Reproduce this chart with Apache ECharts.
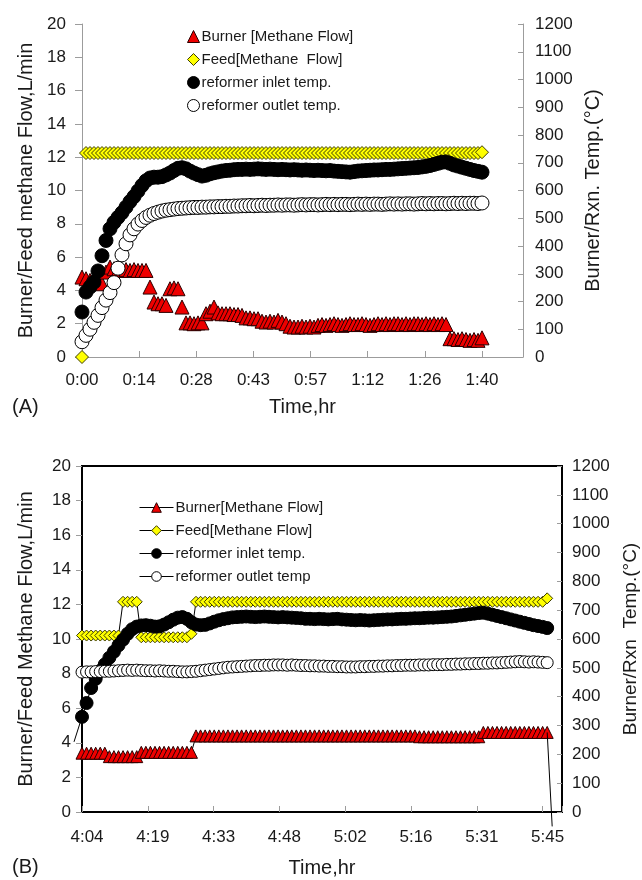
<!DOCTYPE html>
<html>
<head>
<meta charset="utf-8">
<script src="https://cdn.jsdelivr.net/npm/echarts@6.0.0/dist/echarts.min.js"></script>
<style>
  html, body { margin: 0; padding: 0; background: #fff; }
  #chart { width: 642px; height: 880px; }
</style>
</head>
<body>
<div id="chart"></div>
<script>
// (A) start-up run, minutes from 0:00
var timesA = [0,1,2,3,4,5,6,7,8,9,
  10,11,12,13,14,15,16,17,18,19,
  20,21,22,23,24,25,26,27,28,29,
  30,31,32,33,34,35,36,37,38,39,
  40,41,42,43,44,45,46,47,48,49,
  50,51,52,53,54,55,56,57,58,59,
  60,61,62,63,64,65,66,67,68,69,
  70,71,72,73,74,75,76,77,78,79,
  80,81,82,83,84,85,86,87,88,89,
  90,91,92,93,94,95,96,97,98,99,
  100];
var burnerA = [4.8,4.7,4.6,4.5,4.5,4.4,5.1,5.4,5.3,5.2,
  5.2,5.25,5.2,5.25,5.2,5.2,5.2,4.2,3.3,3.2,
  3.2,3.1,4.1,4.15,4.1,3.0,2.05,2.05,2.0,2.05,
  2.05,2.6,2.75,3.0,2.65,2.6,2.6,2.6,2.55,2.55,
  2.5,2.35,2.35,2.3,2.3,2.15,2.1,2.15,2.1,2.2,
  2.1,2.0,1.85,1.8,1.8,1.85,1.8,1.85,1.8,1.9,
  1.95,1.9,1.95,2.0,1.95,1.9,1.95,2.0,1.95,1.95,
  2.0,1.95,1.9,1.95,2.0,1.95,2.0,1.95,2.0,2.0,
  1.95,2.0,1.95,2.0,2.0,1.95,2.0,1.95,2.0,1.95,
  2.0,1.95,1.1,1.1,1.05,1.1,1.05,1.0,1.05,1.0,
  1.15];
var feedA = [0,12.25,12.25,12.25,12.25,12.25,12.25,12.25,12.25,12.25,
  12.25,12.25,12.25,12.25,12.25,12.25,12.25,12.25,12.25,12.25,
  12.25,12.25,12.25,12.25,12.25,12.25,12.25,12.25,12.25,12.25,
  12.25,12.25,12.25,12.25,12.25,12.25,12.25,12.25,12.25,12.25,
  12.25,12.25,12.25,12.25,12.25,12.25,12.25,12.25,12.25,12.25,
  12.25,12.25,12.25,12.25,12.25,12.25,12.25,12.25,12.25,12.25,
  12.25,12.25,12.25,12.25,12.25,12.25,12.25,12.25,12.25,12.25,
  12.25,12.25,12.25,12.25,12.25,12.25,12.25,12.25,12.25,12.25,
  12.25,12.25,12.25,12.25,12.25,12.25,12.25,12.25,12.25,12.25,
  12.25,12.25,12.25,12.25,12.25,12.25,12.25,12.25,12.25,12.25,
  12.3];
var inletA = [162,234,252,270,310,365,420,462,485,503,
  520,540,560,578,598,618,635,645,648,648,
  650,656,663,672,680,682,678,670,663,657,
  652,655,660,664,667,670,672,673,675,676,
  676,677,676,677,678,677,676,677,676,675,
  676,675,674,675,674,673,674,673,672,673,
  672,671,672,670,669,668,667,666,668,670,
  671,672,673,674,674,675,676,676,677,678,
  679,680,681,682,683,685,687,690,694,698,
  702,703,698,692,688,684,680,676,672,669,
  666];
var outletA = [55,78,100,125,150,178,205,232,268,320,
  368,408,440,462,479,492,503,511,517,522,
  526,529,531,533,535,536,537,538,539,539,
  540,540,541,541,542,542,543,543,544,544,
  545,545,546,545,546,547,546,547,547,548,
  547,548,548,547,548,549,548,549,549,548,
  549,550,549,550,549,550,550,549,550,551,
  550,551,550,551,551,550,551,552,551,552,
  551,552,552,551,552,553,552,553,552,553,
  553,552,553,554,553,554,553,554,554,553,
  555];
var ticksA = ['0:00','0:14','0:28','0:43','0:57','1:12','1:26','1:40'];
var namesA = ['Burner [Methane Flow]', 'Feed[Methane  Flow]', 'reformer inlet temp.', 'reformer outlet temp.'];

// (B) steady run, minutes from 4:04
var timesB = [0,1,2,3,4,5,6,7,8,9,
  10,11,12,13,14,15,16,17,18,19,
  20,21,22,23,24,25,26,27,28,29,
  30,31,32,33,34,35,36,37,38,39,
  40,41,42,43,44,45,46,47,48,49,
  50,51,52,53,54,55,56,57,58,59,
  60,61,62,63,64,65,66,67,68,69,
  70,71,72,73,74,75,76,77,78,79,
  80,81,82,83,84,85,86,87,88,89,
  90,91,92,93,94,95,96,97,98,99,
  100,101,102];
var burnerB = [3.4,3.4,3.4,3.4,3.4,3.4,3.2,3.2,3.2,3.2,
  3.2,3.2,3.2,3.45,3.45,3.45,3.45,3.45,3.45,3.45,
  3.45,3.45,3.45,3.45,3.45,4.4,4.4,4.4,4.4,4.4,
  4.4,4.4,4.4,4.4,4.4,4.4,4.4,4.4,4.4,4.4,
  4.4,4.4,4.4,4.4,4.4,4.4,4.4,4.4,4.4,4.4,
  4.4,4.4,4.4,4.4,4.4,4.4,4.4,4.4,4.4,4.4,
  4.4,4.4,4.4,4.4,4.4,4.4,4.4,4.4,4.4,4.4,
  4.4,4.4,4.4,4.4,4.35,4.35,4.35,4.35,4.35,4.35,
  4.35,4.35,4.35,4.35,4.35,4.35,4.35,4.35,4.6,4.6,
  4.6,4.6,4.6,4.6,4.6,4.6,4.6,4.6,4.6,4.6,
  4.6,4.6,4.6];
var feedB = [10.2,10.2,10.2,10.2,10.2,10.2,10.2,10.2,10.2,12.15,
  12.15,12.15,12.15,10.1,10.1,10.1,10.1,10.1,10.1,10.1,
  10.1,10.1,10.1,10.1,10.3,12.15,12.15,12.15,12.15,12.15,
  12.15,12.15,12.15,12.15,12.15,12.15,12.15,12.15,12.15,12.15,
  12.15,12.15,12.15,12.15,12.15,12.15,12.15,12.15,12.15,12.15,
  12.15,12.15,12.15,12.15,12.15,12.15,12.15,12.15,12.15,12.15,
  12.15,12.15,12.15,12.15,12.15,12.15,12.15,12.15,12.15,12.15,
  12.15,12.15,12.15,12.15,12.15,12.15,12.15,12.15,12.15,12.15,
  12.15,12.15,12.15,12.15,12.15,12.15,12.15,12.15,12.15,12.15,
  12.15,12.15,12.15,12.15,12.15,12.15,12.15,12.15,12.15,12.15,
  12.15,12.15,12.35];
var inletB = [330,378,430,462,490,512,535,556,578,598,
  618,634,643,647,648,646,643,644,650,658,
  667,674,676,670,658,650,648,649,654,660,
  665,669,672,675,676,677,678,677,676,677,
  678,677,676,675,676,675,674,673,672,670,
  670,669,670,669,668,669,670,668,667,666,
  665,666,665,664,665,666,667,668,668,669,
  670,670,671,672,672,673,674,674,675,676,
  677,678,680,682,684,686,688,690,691,688,
  684,680,676,672,668,664,660,656,652,648,
  645,642,638];
var outletB = [485,486,486,487,487,488,488,489,490,491,
  492,491,492,491,490,490,489,490,489,488,
  488,487,486,486,487,488,490,492,494,496,
  498,500,502,503,504,505,506,507,508,508,
  509,509,510,510,510,509,510,509,508,508,
  507,507,506,506,505,505,504,504,503,503,
  503,504,504,505,505,506,506,507,507,508,
  508,509,509,509,510,510,510,511,511,511,
  512,512,513,513,514,514,515,515,516,516,
  517,517,518,519,520,521,522,521,520,521,
  520,519,518];
var ticksB = ['4:04','4:19','4:33','4:48','5:02','5:16','5:31','5:45'];
var namesB = ['Burner[Methane Flow]', 'Feed[Methane Flow]', 'reformer inlet temp. ', 'reformer outlet temp'];

var FONT = '"Liberation Sans", Arial, Helvetica, sans-serif';
var textCol = '#1a1a1a';
var grey = '#9c9c9c';
var stepA = 100 / 7;
var stepB = 101 / 7;

function pairs(xs, ys) {
  return xs.map(function (x, i) { return [x, ys[i]]; });
}

// only the real tick positions get a label
function tickFmt(labels, step) {
  return function (v) {
    var i = Math.round(v / step);
    if (Math.abs(v - i * step) > step * 0.05 || i >= labels.length) return '';
    return labels[i];
  };
}
function plain(v) { return String(v); }

var labelFont = { fontSize: 17, color: textCol, fontFamily: FONT };
var nameFont = { fontSize: 20, color: textCol, fontFamily: FONT };

var redStyle = { color: '#ee0000', borderColor: '#2a0000', borderWidth: 1, opacity: 1 };
var yellowStyle = { color: '#ffff00', borderColor: '#3d3d00', borderWidth: 1, opacity: 1 };
var blackStyle = { color: '#000', borderColor: '#000', borderWidth: 1, opacity: 1 };
var whiteStyle = { color: '#fff', borderColor: '#000', borderWidth: 1, opacity: 1 };

var chart = echarts.init(document.getElementById('chart'));

var option = {
  animation: false,
  backgroundColor: '#fff',
  grid: [
    { left: 82, top: 24, width: 441, height: 333, outerBoundsMode: 'none' },
    { left: 82, top: 466, width: 480, height: 346, outerBoundsMode: 'none',
      show: true, borderColor: '#000', borderWidth: 2, backgroundColor: 'transparent' }
  ],
  xAxis: [
    {
      gridIndex: 0, type: 'value', min: 0, max: 110.25, interval: stepA,
      axisLine: { show: true, onZero: false, lineStyle: { color: grey, width: 1 } },
      axisTick: { show: true, inside: true, length: 6, lineStyle: { color: grey } },
      axisLabel: Object.assign({ formatter: tickFmt(ticksA, stepA), margin: 15 }, labelFont),
      splitLine: { show: false },
      name: 'Time,hr', nameLocation: 'middle', nameGap: 40, nameTextStyle: nameFont
    },
    {
      gridIndex: 1, type: 'value', min: 0, max: 105.25, interval: stepB,
      axisLine: { show: true, onZero: false, lineStyle: { color: '#000', width: 2 } },
      axisTick: { show: true, inside: true, length: 6, lineStyle: { color: grey } },
      axisLabel: Object.assign({ formatter: tickFmt(ticksB, stepB), margin: 17, padding: [0, 0, 0, 10] }, labelFont),
      splitLine: { show: false },
      name: 'Time,hr', nameLocation: 'middle', nameGap: 46, nameTextStyle: nameFont
    }
  ],
  yAxis: [
    {
      gridIndex: 0, type: 'value', position: 'left', min: 0, max: 20, interval: 2,
      axisLine: { show: true, lineStyle: { color: grey, width: 1 } },
      axisTick: { show: true, inside: false, length: 7, lineStyle: { color: grey } },
      axisLabel: Object.assign({ margin: 16, formatter: plain }, labelFont),
      splitLine: { show: false },
      name: 'Burner/Feed methane Flow,L/min', nameLocation: 'middle', nameRotate: 90,
      nameGap: 46, nameTextStyle: nameFont
    },
    {
      gridIndex: 0, type: 'value', position: 'right', min: 0, max: 1200, interval: 100,
      axisLine: { show: true, lineStyle: { color: grey, width: 1 } },
      axisTick: { show: true, inside: true, length: 5, lineStyle: { color: grey } },
      axisLabel: Object.assign({ margin: 12, formatter: plain }, labelFont),
      splitLine: { show: false },
      name: 'Burner/Rxn. Temp.(°C)', nameLocation: 'middle', nameRotate: 90,
      nameGap: 46, nameTextStyle: nameFont
    },
    {
      gridIndex: 1, type: 'value', position: 'left', min: 0, max: 20, interval: 2,
      axisLine: { show: true, lineStyle: { color: '#000', width: 2 } },
      axisTick: { show: true, inside: false, length: 6, lineStyle: { color: grey } },
      axisLabel: Object.assign({ margin: 11, formatter: plain }, labelFont),
      splitLine: { show: false },
      name: 'Burner/Feed Methane Flow,L/min', nameLocation: 'middle', nameRotate: 90,
      nameGap: 46, nameTextStyle: nameFont
    },
    {
      gridIndex: 1, type: 'value', position: 'right', min: 0, max: 1200, interval: 100,
      axisLine: { show: true, lineStyle: { color: '#000', width: 2 } },
      axisTick: { show: true, inside: true, length: 5, lineStyle: { color: grey } },
      axisLabel: Object.assign({ margin: 10, formatter: plain }, labelFont),
      splitLine: { show: false },
      name: 'Burner/Rxn  Temp.(°C)', nameLocation: 'middle', nameRotate: 90,
      nameGap: 59, nameTextStyle: { fontSize: 19, color: textCol, fontFamily: FONT }
    }
  ],
  legend: [
    {
      data: namesA, orient: 'vertical', left: 182, top: 24,
      itemWidth: 12, itemHeight: 12, itemGap: 8, selectedMode: false,
      itemStyle: { borderWidth: 1 },
      textStyle: { fontSize: 15, color: textCol, fontFamily: FONT, padding: [0, 0, 0, -3] }
    },
    {
      data: namesB, orient: 'vertical', left: 134, top: 495,
      itemWidth: 34, itemHeight: 12, itemGap: 8, selectedMode: false,
      itemStyle: { borderWidth: 1 },
      lineStyle: { color: '#000', width: 1 },
      textStyle: { fontSize: 15, color: textCol, fontFamily: FONT, padding: [0, 0, 0, -3] }
    }
  ],
  graphic: [
    { type: 'text', left: 12, top: 397, style: { text: '(A)', font: '20px ' + FONT, fill: textCol } },
    { type: 'text', left: 12, top: 857, style: { text: '(B)', font: '20px ' + FONT, fill: textCol } }
  ],
  series: [
    { name: namesA[0], type: 'scatter', xAxisIndex: 0, yAxisIndex: 0, silent: true,
      symbol: 'triangle', symbolSize: 14, itemStyle: redStyle, data: pairs(timesA, burnerA) },
    { name: namesA[1], type: 'scatter', xAxisIndex: 0, yAxisIndex: 0, silent: true,
      symbol: 'diamond', symbolSize: 13, itemStyle: yellowStyle, data: pairs(timesA, feedA) },
    { name: namesA[2], type: 'scatter', xAxisIndex: 0, yAxisIndex: 1, silent: true,
      symbol: 'circle', symbolSize: 14, itemStyle: blackStyle, data: pairs(timesA, inletA) },
    { name: namesA[3], type: 'scatter', xAxisIndex: 0, yAxisIndex: 1, silent: true,
      symbol: 'circle', symbolSize: 14, itemStyle: whiteStyle, data: pairs(timesA, outletA) },

    { name: namesB[0], type: 'line', xAxisIndex: 1, yAxisIndex: 2, silent: true,
      symbol: 'triangle', symbolSize: 12, showSymbol: true, showAllSymbol: true,
      lineStyle: { color: '#000', width: 1 }, itemStyle: redStyle, data: pairs(timesB, burnerB) },
    { name: namesB[1], type: 'line', xAxisIndex: 1, yAxisIndex: 2, silent: true,
      symbol: 'diamond', symbolSize: 11, showSymbol: true, showAllSymbol: true,
      lineStyle: { color: '#000', width: 1 }, itemStyle: yellowStyle, data: pairs(timesB, feedB) },
    { name: namesB[2], type: 'line', xAxisIndex: 1, yAxisIndex: 3, silent: true,
      symbol: 'circle', symbolSize: 13, showSymbol: true, showAllSymbol: true,
      lineStyle: { color: '#000', width: 1 }, itemStyle: blackStyle, data: pairs(timesB, inletB) },
    { name: namesB[3], type: 'line', xAxisIndex: 1, yAxisIndex: 3, silent: true,
      symbol: 'circle', symbolSize: 12, showSymbol: true, showAllSymbol: true,
      lineStyle: { color: '#000', width: 1 }, itemStyle: whiteStyle, data: pairs(timesB, outletB) }
  ]
};

chart.setOption(option);

// short pointer strokes from the tick labels of (B) to the first / last points
var last = timesB.length - 1;
var pEnd = chart.convertToPixel({ xAxisIndex: 1, yAxisIndex: 2 }, [timesB[last], burnerB[last]]);
var pStart = chart.convertToPixel({ xAxisIndex: 1, yAxisIndex: 3 }, [timesB[0], inletB[0]]);
chart.setOption({
  graphic: [
    { id: 'leadEnd', type: 'line', z: 10, silent: true,
      shape: { x1: pEnd[0], y1: pEnd[1], x2: pEnd[0] + 5, y2: pEnd[1] + 94 },
      style: { stroke: '#000', lineWidth: 1 } },
    { id: 'leadStart', type: 'line', z: 10, silent: true,
      shape: { x1: pStart[0], y1: pStart[1], x2: pStart[0] - 8, y2: pStart[1] + 25 },
      style: { stroke: '#000', lineWidth: 1 } }
  ]
});
</script>
</body>
</html>
